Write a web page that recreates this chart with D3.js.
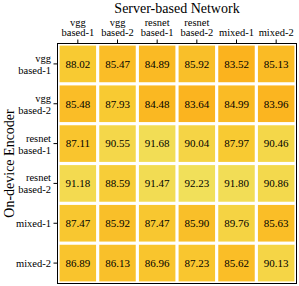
<!DOCTYPE html>
<html>
<head>
<meta charset="utf-8">
<script src="https://cdn.jsdelivr.net/npm/d3@7"></script>
<style>
  body { margin: 0; background: #fff; }
  text { font-family: "Liberation Serif", "Times New Roman", serif; fill: #000; }
</style>
</head>
<body>
<script>
var width = 299,
    height = 286,
    margin = {top: 44, right: 3, bottom: 3, left: 58};

// server-based network (columns) and on-device encoder (rows)
var serverNets = ["vgg based-1", "vgg based-2", "resnet based-1", "resnet based-2", "mixed-1", "mixed-2"];
var deviceEncoders = ["vgg based-1", "vgg based-2", "resnet based-1", "resnet based-2", "mixed-1", "mixed-2"];

var accVgg1 = [88.02, 85.47, 84.89, 85.92, 83.52, 85.13];
var accVgg2 = [85.48, 87.93, 84.48, 83.64, 84.99, 83.96];
var accRes1 = [87.11, 90.55, 91.68, 90.04, 87.97, 90.46];
var accRes2 = [91.18, 88.59, 91.47, 92.23, 91.80, 90.86];
var accMix1 = [87.47, 85.92, 87.47, 85.90, 89.76, 85.63];
var accMix2 = [86.89, 86.13, 86.96, 87.23, 85.62, 90.13];

var rows = [accVgg1, accVgg2, accRes1, accRes2, accMix1, accMix2];

var cells = [];
rows.forEach(function(r, i) {
  r.forEach(function(v, j) {
    cells.push({row: deviceEncoders[i], col: serverNets[j], v: v});
  });
});

var w = width - margin.left - margin.right,
    h = height - margin.top - margin.bottom;

var x = d3.scaleBand().domain(serverNets.map(function(d, i) { return i; })).range([0, w])
    .paddingInner(0.08).paddingOuter(0.04);
var y = d3.scaleBand().domain(deviceEncoders.map(function(d, i) { return i; })).range([0, h])
    .paddingInner(0.08).paddingOuter(0.04);

var color = d3.scaleLinear()
    .domain([83.5, 88, 92.3])
    .range(["#fbb31e", "#f8ca32", "#f1e05b"]);

var svg = d3.select("body").append("svg")
    .attr("width", width)
    .attr("height", height);

var g = svg.append("g")
    .attr("transform", "translate(" + margin.left + "," + margin.top + ")");

g.selectAll(".cell")
    .data(cells)
  .enter().append("rect")
    .attr("class", "cell")
    .attr("x", function(d) { return x(serverNets.indexOf(d.col)); })
    .attr("y", function(d) { return y(deviceEncoders.indexOf(d.row)); })
    .attr("width", x.bandwidth())
    .attr("height", y.bandwidth())
    .attr("fill", function(d) { return color(d.v); });

g.selectAll(".val")
    .data(cells)
  .enter().append("text")
    .attr("class", "val")
    .attr("x", function(d) { return x(serverNets.indexOf(d.col)) + x.bandwidth() / 2; })
    .attr("y", function(d) { return y(deviceEncoders.indexOf(d.row)) + y.bandwidth() / 2; })
    .attr("dy", "0.35em")
    .attr("text-anchor", "middle")
    .style("font-size", "11px")
    .text(function(d) { return d.v.toFixed(2); });

// frame
g.append("rect")
    .attr("x", -0.5).attr("y", -0.5)
    .attr("width", w + 1).attr("height", h + 1)
    .attr("fill", "none")
    .attr("stroke", "#000")
    .attr("stroke-width", 1);

// top axis
var xAxis = d3.axisTop(x).tickSize(4).tickFormat("");
var gx = g.append("g").attr("transform", "translate(0,-0.5)").call(xAxis);
gx.select(".domain").remove();

var yAxis = d3.axisLeft(y).tickSize(4).tickFormat("");
var gy = g.append("g").attr("transform", "translate(-0.5,0)").call(yAxis);
gy.select(".domain").remove();

function splitLabel(s) {
  var p = s.split(" ");
  return p.length > 1 ? p : [s];
}

// column labels
serverNets.forEach(function(name, i) {
  var lines = splitLabel(name);
  var t = g.append("text")
      .attr("text-anchor", "middle")
      .attr("x", x(i) + x.bandwidth() / 2)
      .style("font-size", "10.5px");
  lines.forEach(function(l, k) {
    t.append("tspan")
      .attr("x", x(i) + x.bandwidth() / 2)
      .attr("y", -8 - (lines.length - 1 - k) * 10)
      .text(l);
  });
});

// row labels
deviceEncoders.forEach(function(name, i) {
  var lines = splitLabel(name);
  var cy = y(i) + y.bandwidth() / 2;
  var t = g.append("text")
      .attr("text-anchor", "end")
      .style("font-size", "10.5px");
  lines.forEach(function(l, k) {
    t.append("tspan")
      .attr("x", -7)
      .attr("y", cy + 4 + (k - (lines.length - 1) / 2) * 12)
      .text(l);
  });
});

svg.append("text")
    .attr("x", margin.left + w / 2)
    .attr("y", 13)
    .attr("text-anchor", "middle")
    .style("font-size", "14px")
    .text("Server-based Network");

svg.append("text")
    .attr("transform", "translate(14," + (margin.top + h / 2) + ") rotate(-90)")
    .attr("text-anchor", "middle")
    .style("font-size", "14px")
    .text("On-device Encoder");
</script>
</body>
</html>
